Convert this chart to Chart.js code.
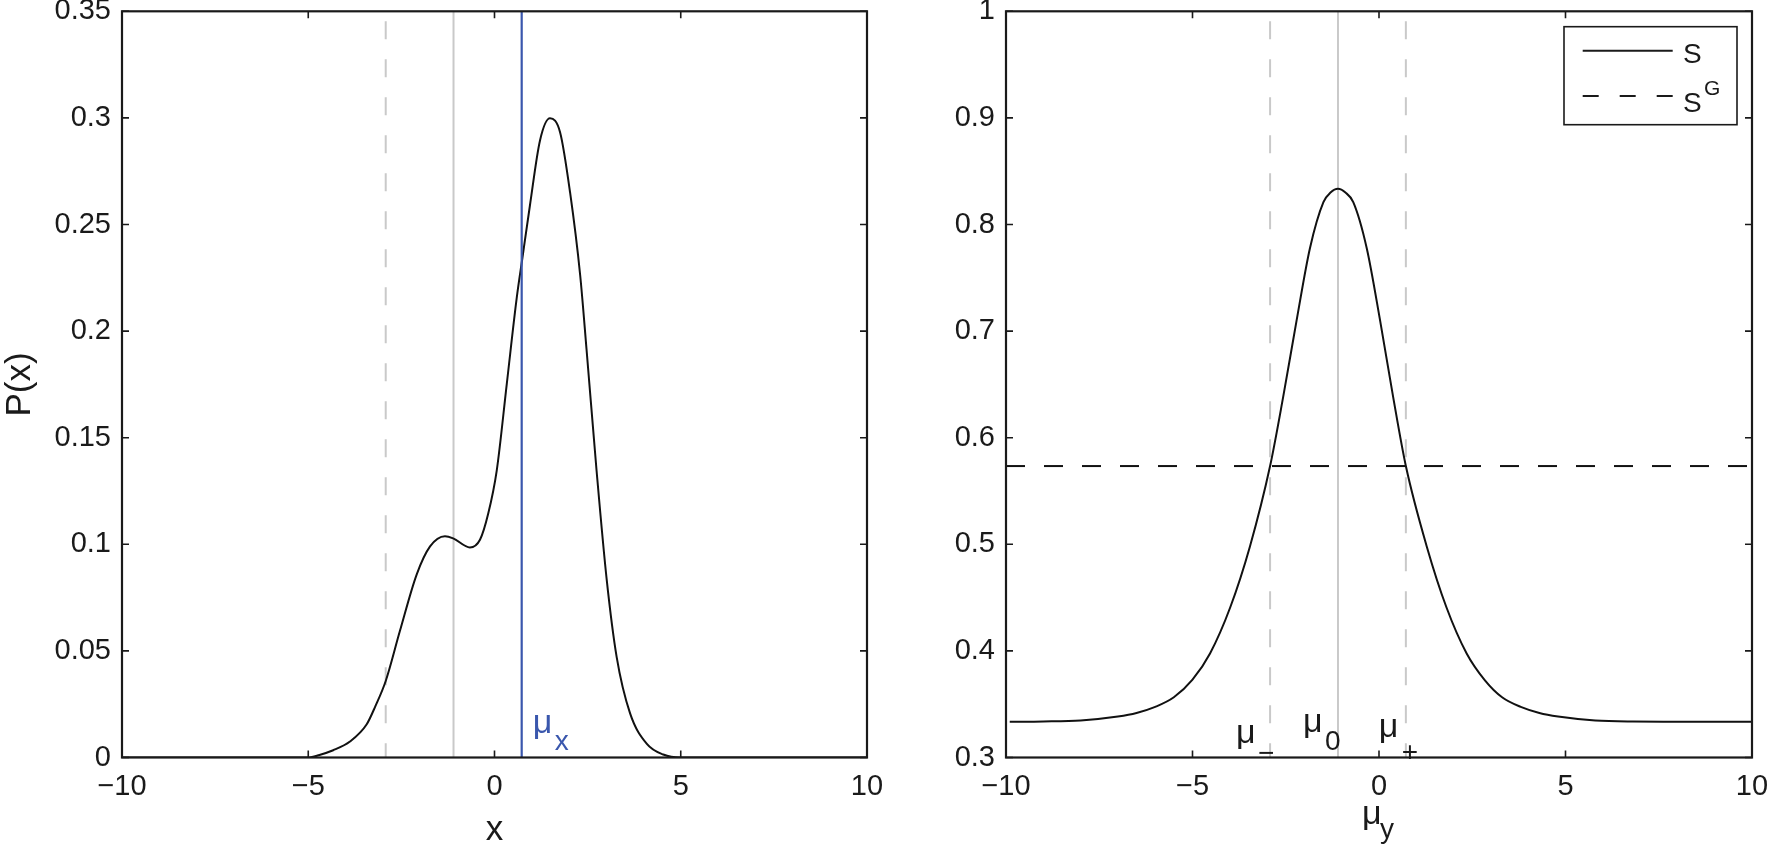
<!DOCTYPE html>
<html><head><meta charset="utf-8">
<script src="https://cdn.jsdelivr.net/npm/chart.js@4.4.0/dist/chart.umd.min.js"></script>
<style>
html,body{margin:0;padding:0;background:#fff;width:1770px;height:850px;overflow:hidden}
.box{position:absolute;top:0;width:885px;height:850px}
#l{left:0}#r{left:885px}
</style></head><body>
<div class="box" id="l"><canvas id="cl" width="885" height="850"></canvas></div>
<div class="box" id="r"><canvas id="cr" width="885" height="850"></canvas></div>
<script>
// ---- data ----
const pX = [-10, -5.0, -4.7, -4.33, -3.88, -3.43, -3.2, -2.92, -2.54, -2.09, -1.73, -1.33, -1.11, -0.66, -0.39, -0.17, 0.06, 0.33, 0.60, 0.75, 0.95, 1.22, 1.49, 1.76, 2.03, 2.30, 2.47, 2.74, 3.01, 3.28, 3.64, 4.09, 4.53, 5.0, 10];
const pY = [0, 0, 0.0012, 0.0034, 0.0075, 0.0156, 0.024, 0.0359, 0.0593, 0.0858, 0.099, 0.1038, 0.1028, 0.0985, 0.1021, 0.1143, 0.1346, 0.1753, 0.216, 0.2344, 0.2588, 0.2893, 0.2998, 0.2933, 0.2649, 0.2262, 0.1916, 0.1346, 0.0838, 0.0471, 0.0207, 0.0064, 0.0014, 0, 0];
const sX = [-9.9, -9, -8, -7, -6.5, -6, -5.5, -5, -4.53, -3.99, -3.46, -2.92, -2.57, -2.21, -1.85, -1.49, -1.3, -1.1, -0.9, -0.69, -0.33, 0.03, 0.38, 0.72, 1.28, 1.81, 2.35, 2.84, 3.3, 3.8, 4.3, 4.8, 5.8, 6.8, 8, 10];
const sY = [0.3335, 0.3338, 0.3348, 0.3385, 0.3418, 0.3475, 0.3565, 0.373, 0.3976, 0.4407, 0.498, 0.5734, 0.638, 0.7098, 0.778, 0.821, 0.830, 0.8335, 0.830, 0.821, 0.778, 0.7098, 0.638, 0.5734, 0.498, 0.4407, 0.3976, 0.3724, 0.3565, 0.3475, 0.3418, 0.3385, 0.3348, 0.3338, 0.3336, 0.3335];
const sGX = [-10, 10];
const sGY = [0.5734, 0.5734];
const muMinus = -2.92, mu0 = -1.1, muPlus = 0.72, muX = 0.73;
const xTicks = [-10, -5, 0, 5, 10];
const xTickLabels = ['\u221210', '\u22125', '0', '5', '10'];
const leftYTicks = [0, 0.05, 0.1, 0.15, 0.2, 0.25, 0.3, 0.35];
const leftYTickLabels = ['0', '0.05', '0.1', '0.15', '0.2', '0.25', '0.3', '0.35'];
const rightYTicks = [0.3, 0.4, 0.5, 0.6, 0.7, 0.8, 0.9, 1];
const rightYTickLabels = ['0.3', '0.4', '0.5', '0.6', '0.7', '0.8', '0.9', '1'];
const legendLabels = ['S', 'S', 'G'];

// ---- styling ----
const FAM = '"Liberation Sans", Arial, Helvetica, sans-serif';
const INK = '#1a1a1a';
const GRAY = '#c9c9c9';
const BLUE = '#3a57ad';
Chart.defaults.font.family = FAM;
Chart.defaults.color = INK;

const pts = (xs, ys) => xs.map((x, i) => ({x, y: ys[i]}));
const vline = (v, lo, hi) => [{x: v, y: hi}, {x: v, y: lo}];

function lineDs(data, color, width, dash, extra) {
  return Object.assign({data, borderColor: color, borderWidth: width, borderDash: dash || [],
    pointRadius: 0, showLine: true, fill: false, tension: 0}, extra || {});
}

const framePlugin = {
  id: 'frame',
  afterDatasetsDraw(chart) {
    const {ctx, chartArea: a, scales: {x, y}} = chart;
    ctx.save();
    ctx.strokeStyle = INK;
    ctx.lineWidth = 1.6;
    ctx.beginPath();
    x.ticks.forEach(t => { const p = x.getPixelForValue(t.value);
      ctx.moveTo(p, a.bottom); ctx.lineTo(p, a.bottom - 7);
      ctx.moveTo(p, a.top); ctx.lineTo(p, a.top + 7); });
    y.ticks.forEach(t => { const p = y.getPixelForValue(t.value);
      ctx.moveTo(a.left, p); ctx.lineTo(a.left + 7, p);
      ctx.moveTo(a.right, p); ctx.lineTo(a.right - 7, p); });
    ctx.stroke();
    ctx.lineWidth = 2.2;
    ctx.strokeRect(a.left, a.top, a.right - a.left, a.bottom - a.top);
    ctx.restore();
  }
};

function txt(ctx, s, x, y, size, color) {
  ctx.font = size + 'px ' + FAM;
  ctx.fillStyle = color;
  ctx.textBaseline = 'alphabetic';
  ctx.textAlign = 'left';
  ctx.fillText(s, x, y);
}

function makeChart(id, datasets, yMin, yMax, yTicks, yLabels, yW, yTitle, xTitle, plugins) {
  return new Chart(document.getElementById(id), {
    type: 'scatter',
    data: {datasets},
    plugins: [framePlugin].concat(plugins || []),
    options: {
      responsive: false, animation: false, devicePixelRatio: 1,
      layout: {padding: {left: 0, right: 18, top: 11.3, bottom: 0}},
      plugins: {legend: {display: false}, tooltip: {enabled: false}},
      scales: {
        x: {
          type: 'linear', min: -10, max: 10,
          afterBuildTicks: s => { s.ticks = xTicks.map(v => ({value: v})); },
          ticks: {callback: v => xTickLabels[xTicks.indexOf(v)], font: {size: 29}, color: INK,
                  padding: 12, maxRotation: 0, autoSkip: false},
          grid: {display: false, drawTicks: false}, border: {display: false},
          title: {display: !!xTitle, text: xTitle || '', font: {size: 35, lineHeight: 1.15}, color: INK, padding: 0},
          afterFit: s => { s.height = 92.5; s.paddingLeft = 0; s.paddingRight = 0; }
        },
        y: {
          type: 'linear', min: yMin, max: yMax,
          afterBuildTicks: s => { s.ticks = yTicks.map(v => ({value: v})); },
          ticks: {callback: v => yLabels[yTicks.findIndex(t => Math.abs(t - v) < 1e-9)], font: {size: 29}, color: INK,
                  padding: 11, autoSkip: false},
          grid: {display: false, drawTicks: false}, border: {display: false},
          title: {display: !!yTitle, text: yTitle || '', font: {size: 35, lineHeight: 1.15}, color: INK, padding: 0},
          afterFit: s => { s.width = yW; s.paddingTop = 0; s.paddingBottom = 0; }
        }
      }
    }
  });
}

// ---- left chart ----
const leftAnno = {
  id: 'leftAnno',
  afterDraw(chart) {
    const {ctx, scales: {x, y}} = chart;
    const px = x.getPixelForValue(muX), b = y.getPixelForValue(0);
    ctx.save();
    txt(ctx, '\u03bc', px + 11, b - 24.5, 34, BLUE);
    txt(ctx, 'x', px + 33, b - 7.5, 28, BLUE);
    ctx.restore();
  }
};
makeChart('cl', [
  lineDs(vline(muX, 0, 0.35), BLUE, 2.2),
  lineDs(pts(pX, pY), '#111', 2, null, {cubicInterpolationMode: 'monotone'}),
  lineDs(vline(mu0, 0, 0.35), GRAY, 2),
  lineDs(vline(muMinus, 0, 0.35), GRAY, 2, [18, 20], {borderDashOffset: 28})
], 0, 0.35, leftYTicks, leftYTickLabels, 122, 'P(x)', 'x', [leftAnno]);

// ---- right chart ----
const rightAnno = {
  id: 'rightAnno',
  afterDraw(chart) {
    const {ctx, chartArea: a, scales: {x, y}} = chart;
    const b = y.getPixelForValue(0.3);
    const pm = x.getPixelForValue(muMinus), p0 = x.getPixelForValue(mu0), pp = x.getPixelForValue(muPlus);
    ctx.save();
    txt(ctx, '\u03bc', pm - 34, b - 14.5, 34, INK);
    txt(ctx, '\u2212', pm - 12, b + 4, 28, INK);
    txt(ctx, '\u03bc', p0 - 35, b - 25.5, 34, INK);
    txt(ctx, '0', p0 - 13, b - 7.5, 28, INK);
    txt(ctx, '\u03bc', pp - 27, b - 20.5, 34, INK);
    txt(ctx, '+', pp - 4, b + 3, 28, INK);
    // x-axis title mu_y
    const cx = (a.left + a.right) / 2;
    txt(ctx, '\u03bc', cx - 17, 824, 34, INK);
    txt(ctx, 'y', cx + 1, 837.5, 28, INK);
    // legend
    const bw = 173, bh = 98, bx = a.right - 15 - bw, by = a.top + 15.4;
    ctx.fillStyle = '#fff';
    ctx.fillRect(bx, by, bw, bh);
    ctx.strokeStyle = INK; ctx.lineWidth = 1.6;
    ctx.strokeRect(bx, by, bw, bh);
    ctx.lineWidth = 2;
    ctx.beginPath(); ctx.moveTo(bx + 18.7, by + 24); ctx.lineTo(bx + 108.7, by + 24); ctx.stroke();
    ctx.setLineDash([16, 21]);
    ctx.beginPath(); ctx.moveTo(bx + 18.7, by + 69.3); ctx.lineTo(bx + 108.7, by + 69.3); ctx.stroke();
    ctx.setLineDash([]);
    txt(ctx, legendLabels[0], bx + 119, by + 36.5, 28, INK);
    txt(ctx, legendLabels[1], bx + 119, by + 85, 28, INK);
    txt(ctx, legendLabels[2], bx + 140, by + 68.5, 21, INK);
    ctx.restore();
  }
};
makeChart('cr', [
  lineDs(pts(sX, sY), '#111', 2, null, {cubicInterpolationMode: 'monotone'}),
  lineDs(pts(sGX, sGY), '#111', 2, [19, 19]),
  lineDs(vline(mu0, 0.3, 1), GRAY, 2),
  lineDs(vline(muMinus, 0.3, 1), GRAY, 2, [18, 20], {borderDashOffset: 28}),
  lineDs(vline(muPlus, 0.3, 1), GRAY, 2, [18, 20], {borderDashOffset: 28})
], 0.3, 1, rightYTicks, rightYTickLabels, 121, '', '', [rightAnno]);
</script>
</body></html>
